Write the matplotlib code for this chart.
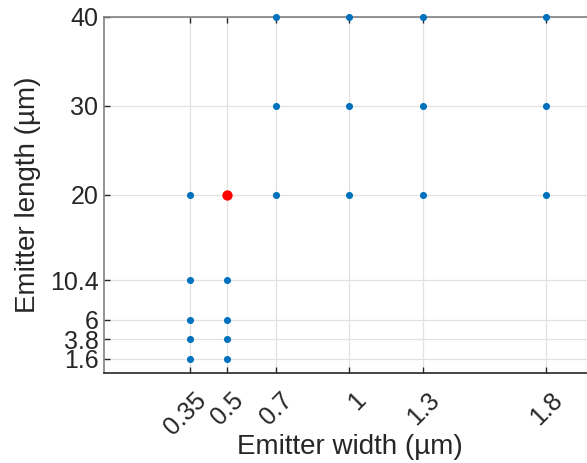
import matplotlib
matplotlib.use("Agg")
import matplotlib.pyplot as plt
import matplotlib.transforms as mtransforms

# Emitter geometries (width, length) in µm
widths = [0.35, 0.35, 0.35, 0.35, 0.35,
          0.5, 0.5, 0.5, 0.5,
          0.7, 0.7, 0.7,
          1.0, 1.0, 1.0,
          1.3, 1.3, 1.3,
          1.8, 1.8, 1.8]
lengths = [1.6, 3.8, 6, 10.4, 20,
           1.6, 3.8, 6, 10.4,
           20, 30, 40,
           20, 30, 40,
           20, 30, 40,
           20, 30, 40]
# Highlighted geometry
sel_width = [0.5]
sel_length = [20]

x_ticks = [0.35, 0.5, 0.7, 1, 1.3, 1.8]
x_ticklabels = ["0.35", "0.5", "0.7", "1", "1.3", "1.8"]
y_ticks = [1.6, 3.8, 6, 10.4, 20, 30, 40]
y_ticklabels = ["1.6", "3.8", "6", "10.4", "20", "30", "40"]

plt.rcParams["font.family"] = ["Liberation Sans", "DejaVu Sans"]

TXT = "#262626"

fig = plt.figure(figsize=(5.87, 4.63), dpi=100)
ax = fig.add_axes([0.1772, 0.1944, 0.8364, 0.7689])

ax.scatter(widths, lengths, s=26, color="#0072BD", zorder=3, linewidths=0,
           clip_on=False)
ax.scatter(sel_width, sel_length, s=55, color="#FF0000", zorder=4,
           linewidths=0, clip_on=False)

ax.set_xlim(0, 2)
ax.set_ylim(0, 40)
ax.set_xticks(x_ticks)
ax.set_yticks(y_ticks)
ax.set_yticklabels(y_ticklabels, fontsize=18, color=TXT)

ax.tick_params(axis="both", direction="in", length=4, width=1, colors=TXT)
ax.tick_params(axis="y", pad=4)
ax.tick_params(axis="x", top=True, labelbottom=False)

# rotated x tick labels, right/top aligned just past each tick
lbl_offset = mtransforms.ScaledTranslation(21 / 100, -15 / 100,
                                           fig.dpi_scale_trans)
lbl_trans = ax.get_xaxis_transform() + lbl_offset
for xv, txt in zip(x_ticks, x_ticklabels):
    ax.text(xv, 0, txt, transform=lbl_trans, rotation=45,
            rotation_mode="default", ha="right", va="top",
            fontsize=18, color=TXT)

ax.grid(True, color="#e2e2e2", linewidth=0.9, zorder=0)
ax.set_axisbelow(True)

ax.spines["bottom"].set_color(TXT)
ax.spines["left"].set_color("#808080")
ax.spines["top"].set_color("#808080")
ax.spines["right"].set_visible(False)
for sp in ax.spines.values():
    sp.set_linewidth(1.2)

ax.set_xlabel("Emitter width (µm)", fontsize=20, color=TXT)
ax.xaxis.set_label_coords(0.5, -0.172)
ax.set_ylabel("Emitter length (µm)", fontsize=20, color=TXT, labelpad=6)

fig.savefig("out.png", dpi=100)
